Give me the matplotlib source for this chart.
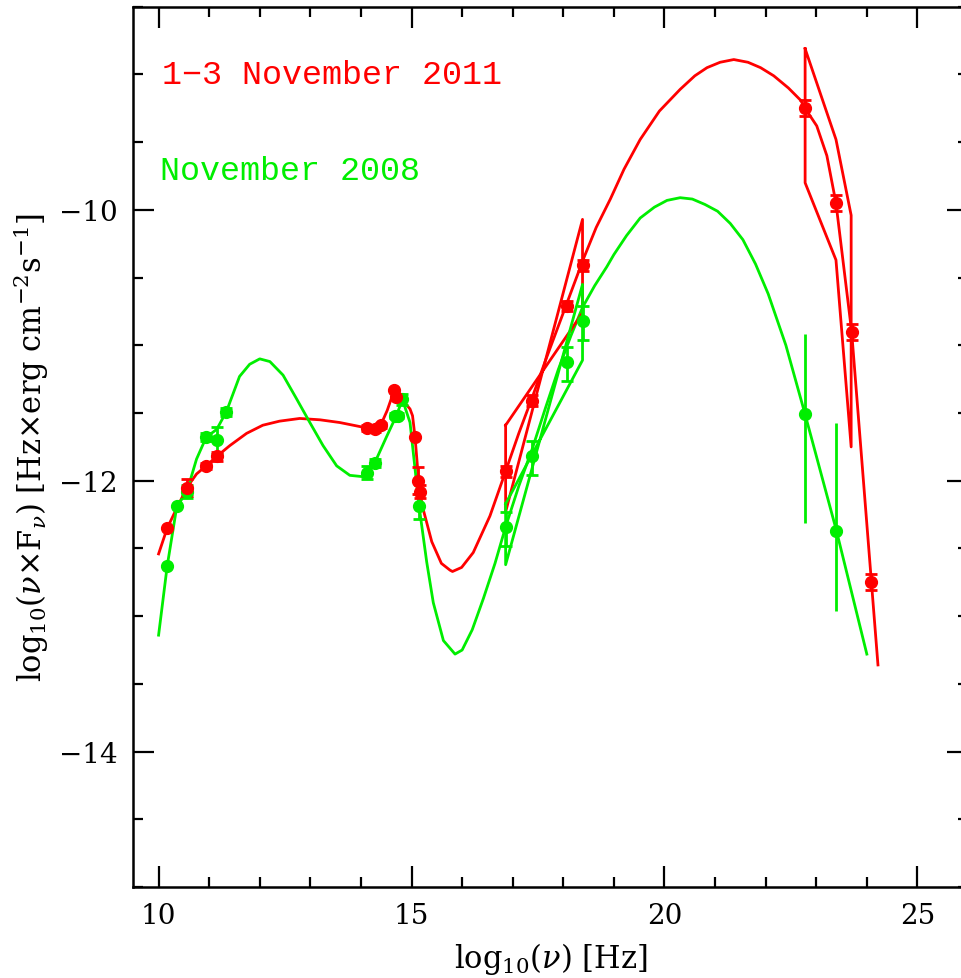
import numpy as np
import matplotlib
matplotlib.use("Agg")
import matplotlib.pyplot as plt
from matplotlib.ticker import MultipleLocator

plt.rcParams['font.family'] = ['DejaVu Serif']
plt.rcParams['mathtext.fontset'] = 'dejavuserif'

RED = '#ff0000'
GREEN = '#00ee00'

# 1-3 November 2011 : data points (log nu, log nuFnu, error)
red_x = [10.17, 10.56, 10.94, 11.15, 14.11, 14.27, 14.39, 14.65, 14.70, 15.07, 15.12, 15.16,
         16.86, 17.39, 18.08, 18.38, 22.78, 23.39, 23.70, 24.09]
red_y = [-12.35, -12.05, -11.89, -11.82, -11.61, -11.62, -11.59, -11.33, -11.38, -11.68, -12.00, -12.08,
         -11.93, -11.41, -10.71, -10.41, -9.25, -9.95, -10.90, -12.75]
red_err = [0.0, 0.06, 0.02, 0.035, 0.02, 0.02, 0.02, 0.0, 0.0, 0.0, 0.10, 0.05,
           0.04, 0.04, 0.04, 0.04, 0.06, 0.06, 0.06, 0.06]

# November 2008 : data points
green_x = [10.17, 10.36, 10.56, 10.93, 11.15, 11.34, 14.12, 14.27, 14.67, 14.73, 14.82, 15.15,
           16.86, 17.39, 18.08, 18.38]
green_y = [-12.63, -12.19, -12.08, -11.68, -11.70, -11.49, -11.94, -11.87, -11.52, -11.52, -11.40, -12.19,
           -12.34, -11.82, -11.12, -10.82]
green_err_lo = [0.0, 0.0, 0.05, 0.03, 0.10, 0.03, 0.05, 0.03, 0.02, 0.02, 0.04, 0.09,
                0.14, 0.14, 0.14, 0.14]
green_err_hi = [0.0, 0.0, 0.05, 0.03, 0.10, 0.03, 0.05, 0.03, 0.02, 0.02, 0.04, 0.09,
                0.11, 0.11, 0.11, 0.11]
# Fermi points 2008 (large errors, no caps)
green_gx = [22.78, 23.40]
green_gy = [-11.51, -12.37]
green_g_lo = [0.80, 0.59]
green_g_hi = [0.59, 0.80]

# model curves
red_mx = [10.0, 10.17, 10.35, 10.56, 10.75, 10.94, 11.15, 11.41, 11.74, 12.06, 12.39, 12.79, 13.19,
          13.58, 13.98, 14.11, 14.27, 14.39, 14.52, 14.65, 14.75, 14.88, 14.97, 15.02, 15.07, 15.14,
          15.16, 15.23, 15.40, 15.59, 15.76, 15.81, 15.99, 16.22, 16.55, 16.86, 17.12, 17.39, 17.65,
          17.9, 18.15, 18.40, 18.65, 18.93, 19.2, 19.52, 19.9, 20.31, 20.6, 20.84, 21.1, 21.37,
          21.65, 21.9, 22.16, 22.45, 22.69, 22.78, 23.01, 23.21, 23.39, 23.70, 24.22]
red_my = [-12.54, -12.35, -12.21, -12.05, -11.95, -11.89, -11.82, -11.74, -11.65, -11.59, -11.56, -11.54, -11.55,
          -11.57, -11.60, -11.61, -11.62, -11.59, -11.48, -11.34, -11.38, -11.43, -11.47, -11.52, -11.68, -12.00,
          -12.08, -12.21, -12.45, -12.61, -12.66, -12.67, -12.64, -12.53, -12.26, -11.93, -11.65, -11.38, -11.11,
          -10.86, -10.61, -10.36, -10.13, -9.92, -9.70, -9.48, -9.27, -9.11, -9.01, -8.95, -8.91, -8.89,
          -8.91, -8.95, -9.01, -9.10, -9.19, -9.25, -9.38, -9.60, -9.95, -10.90, -13.36]

green_mx = [10.0, 10.17, 10.36, 10.56, 10.75, 10.94, 11.15, 11.34, 11.60, 11.80, 12.0, 12.20, 12.46,
            12.72, 12.99, 13.25, 13.52, 13.78, 14.04, 14.12, 14.27, 14.50, 14.70, 14.82, 14.97, 15.15,
            15.30, 15.43, 15.63, 15.86, 16.0, 16.2, 16.42, 16.65, 16.86, 17.12, 17.39, 17.65, 17.9,
            18.15, 18.38, 18.62, 18.86, 19.0, 19.25, 19.52, 19.8, 20.05, 20.31, 20.55, 20.8, 21.05,
            21.3, 21.55, 21.8, 22.05, 22.4, 22.78, 23.40, 24.00]
green_my = [-13.14, -12.63, -12.19, -12.08, -11.84, -11.68, -11.62, -11.49, -11.23, -11.14, -11.10, -11.12, -11.22,
            -11.39, -11.57, -11.74, -11.89, -11.96, -11.97, -11.94, -11.87, -11.68, -11.52, -11.40, -11.57, -12.19,
            -12.60, -12.90, -13.18, -13.28, -13.25, -13.10, -12.87, -12.61, -12.34, -12.04, -11.76, -11.46, -11.18,
            -10.93, -10.72, -10.56, -10.42, -10.33, -10.19, -10.06, -9.98, -9.93, -9.91, -9.92, -9.96, -10.01,
            -10.10, -10.22, -10.40, -10.62, -11.00, -11.51, -12.37, -13.28]

# bow ties
red_xbt_x = [16.86, 18.38, 18.38, 16.86, 16.86]
red_xbt_y = [-11.59, -10.76, -10.07, -12.23, -11.59]
green_xbt_x = [16.86, 18.38, 18.38, 16.86, 16.86]
green_xbt_y = [-12.17, -11.11, -10.55, -12.62, -12.17]
red_gbt_x = [22.78, 23.39, 23.69, 23.69, 23.39, 22.78, 22.78]
red_gbt_y = [-8.81, -9.48, -10.04, -11.75, -10.37, -9.80, -8.81]

fig = plt.figure(figsize=(9.61, 9.79), dpi=100)
ax = fig.add_axes([0.1387, 0.0929, 0.8686, 0.8992])

lw = 2.0
ax.plot(red_mx, red_my, color=RED, lw=lw)
ax.plot(green_mx, green_my, color=GREEN, lw=lw)
ax.plot(red_xbt_x, red_xbt_y, color=RED, lw=lw)
ax.plot(green_xbt_x, green_xbt_y, color=GREEN, lw=lw)
ax.plot(red_gbt_x, red_gbt_y, color=RED, lw=lw)

ax.errorbar(green_x, green_y, yerr=[green_err_lo, green_err_hi], fmt='o', color=GREEN,
            ms=8.5, elinewidth=lw, capsize=4.5, capthick=lw)
ax.errorbar(green_gx, green_gy, yerr=[green_g_lo, green_g_hi], fmt='o', color=GREEN,
            ms=8.5, elinewidth=lw, capsize=0)
ax.errorbar(red_x, red_y, yerr=red_err, fmt='o', color=RED,
            ms=8.5, elinewidth=lw, capsize=4.5, capthick=lw)

ax.text(10.07, -9.0, '1\u22123 November 2011', color=RED, fontsize=24,
        family='Liberation Mono', va='center', ha='left')
ax.text(10.03, -9.71, 'November 2008', color=GREEN, fontsize=24,
        family='Liberation Mono', va='center', ha='left')

ax.set_xlim(9.5, 26)
ax.set_ylim(-15, -8.5)
ax.xaxis.set_major_locator(MultipleLocator(5))
ax.xaxis.set_minor_locator(MultipleLocator(1))
ax.yaxis.set_major_locator(MultipleLocator(2))
ax.yaxis.set_minor_locator(MultipleLocator(0.5))
ax.tick_params(which='both', direction='in', top=True, right=True, width=1.6, labelsize=20)
ax.tick_params(which='major', length=15, pad=11)
ax.tick_params(which='minor', length=7.5)
for s in ax.spines.values():
    s.set_linewidth(1.8)

ax.set_xlabel(r'log$_{10}$($\nu$) [Hz]', fontsize=22, labelpad=8)
ax.set_ylabel(r'log$_{10}$($\nu$$\times$F$_{\nu}$) [Hz$\times$erg cm$^{-2}$s$^{-1}$]', fontsize=22, labelpad=6)

fig.savefig('out.png', dpi=100)
